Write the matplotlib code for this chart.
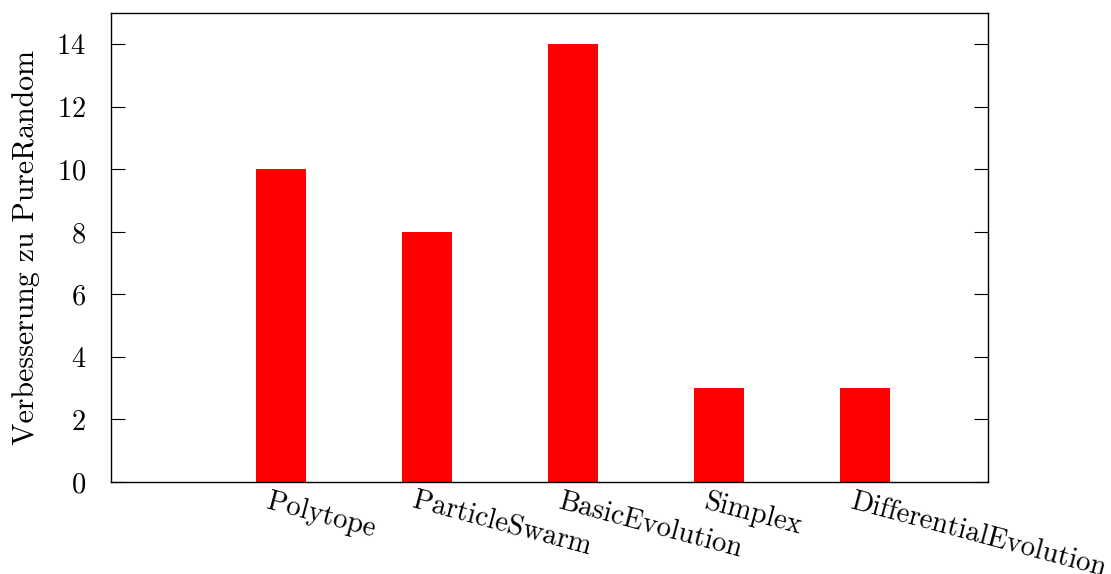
import matplotlib
matplotlib.use("Agg")
import matplotlib.pyplot as plt
import matplotlib.transforms as mtransforms

plt.rcParams['font.family'] = ['cmr10', 'DejaVu Serif']
plt.rcParams['axes.formatter.use_mathtext'] = True
plt.rcParams['mathtext.fontset'] = 'cm'

methods = ["Polytope", "ParticleSwarm", "BasicEvolution", "Simplex", "DifferentialEvolution"]
improvement = [10, 8, 14, 3, 3]
y_ticks = [0, 2, 4, 6, 8, 10, 12, 14]

fig = plt.figure(figsize=(11.11, 5.74), dpi=100)
ax = fig.add_axes([111 / 1111, 1 - 482 / 574, 877 / 1111, 469 / 574])

pos = list(range(len(methods)))
ax.bar(pos, improvement, width=0.34, color="#ff0000", edgecolor="none")

ax.set_xlim(-1.165, 4.84)
ax.set_ylim(0, 15)
ax.set_yticks(y_ticks)
ax.set_xticks([])
ax.tick_params(axis="y", direction="in", length=10, width=0.8, labelsize=20.5,
               pad=18, right=True, left=True)
for s in ax.spines.values():
    s.set_linewidth(1.0)

ax.set_ylabel("Verbesserung zu PureRandom", fontsize=21.5, labelpad=12)

offset = mtransforms.ScaledTranslation(-16 / 100, -26 / 100, fig.dpi_scale_trans)
trans = mtransforms.blended_transform_factory(ax.transData, ax.transAxes) + offset
for p, name in zip(pos, methods):
    ax.text(p, 0, name, transform=trans, rotation=-15, rotation_mode="anchor",
            ha="left", va="baseline", fontsize=20.7)

fig.savefig("out.png", dpi=100)
